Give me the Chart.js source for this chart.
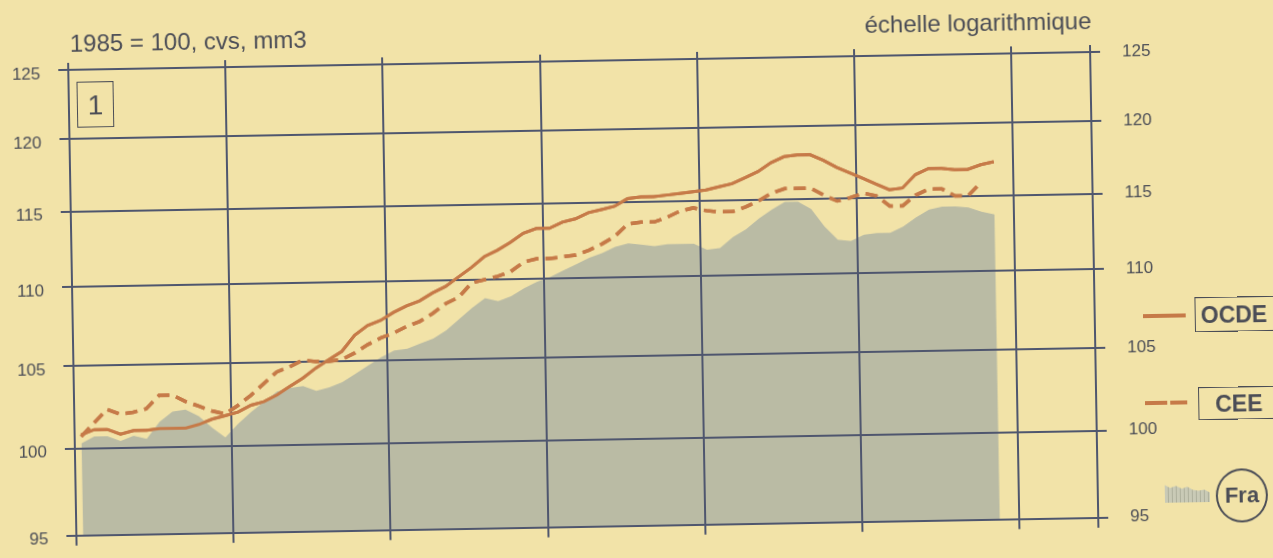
<!DOCTYPE html>
<html><head><meta charset="utf-8">
<script src="https://cdn.jsdelivr.net/npm/chart.js@4.4.1/dist/chart.umd.min.js"></script>
<style>
html,body{margin:0;padding:0;background:#f2e3a8;overflow:hidden;width:1273px;height:558px;}
#wrap{position:relative;width:1273px;height:558px;transform:rotate(-1deg);transform-origin:636px 279px;font-family:"Liberation Sans",Arial,Helvetica,sans-serif;color:#4b4d56;}
#c{position:absolute;left:0;top:0;}
.t{position:absolute;white-space:nowrap;line-height:1;}
.box{position:absolute;border:1.6px solid #4b4d56;box-sizing:border-box;}
</style></head><body>
<div id="wrap">
<canvas id="c" width="1273" height="558"></canvas>
<div class="t" style="left:74px;top:22px;font-size:24px;">1985 = 100, cvs, mm3</div>
<div class="t" style="left:869px;top:17px;font-size:24px;">échelle logarithmique</div>
<div class="box" style="left:80px;top:72px;width:37px;height:46px;"></div>
<div class="t" style="left:80px;top:82px;width:37px;text-align:center;font-size:28px;">1</div>

<div style="position:absolute;left:1142px;top:323px;width:43px;height:4px;background:#c67a48;"></div>
<div class="box" style="left:1194px;top:307px;width:95px;height:35px;"></div>
<div class="t" style="left:1200px;top:314px;font-size:23px;font-weight:bold;">OCDE</div>

<div style="position:absolute;left:1143px;top:410px;width:22px;height:4px;background:#c67a48;"></div>
<div style="position:absolute;left:1168px;top:410px;width:17px;height:4px;background:#c67a48;"></div>
<div class="box" style="left:1196px;top:397px;width:95px;height:33px;"></div>
<div class="t" style="left:1213px;top:403px;font-size:23px;font-weight:bold;">CEE</div>

<div style="position:absolute;left:1161px;top:491px;width:45px;height:21px;background:repeating-linear-gradient(90deg,#c9cab6 0 3px,#aeb09c 3px 4px);clip-path:polygon(0 15%,12% 30%,25% 20%,38% 35%,50% 25%,62% 40%,75% 45%,88% 40%,100% 55%,100% 100%,0 100%);"></div>
<div style="position:absolute;left:1212px;top:479px;width:52px;height:54px;border:2px solid #4b4d56;border-radius:50%;box-sizing:border-box;"></div>
<div class="t" style="left:1212px;top:495px;width:52px;text-align:center;font-size:22px;font-weight:bold;">Fra</div>
</div>
<script>
// monthly data, Jan 1985 - Nov 1990 (3-month moving averages, 1985 = 100)
const months = [
 '1985-01','1985-02','1985-03','1985-04','1985-05','1985-06','1985-07','1985-08','1985-09','1985-10','1985-11','1985-12',
 '1986-01','1986-02','1986-03','1986-04','1986-05','1986-06','1986-07','1986-08','1986-09','1986-10','1986-11','1986-12',
 '1987-01','1987-02','1987-03','1987-04','1987-05','1987-06','1987-07','1987-08','1987-09','1987-10','1987-11','1987-12',
 '1988-01','1988-02','1988-03','1988-04','1988-05','1988-06','1988-07','1988-08','1988-09','1988-10','1988-11','1988-12',
 '1989-01','1989-02','1989-03','1989-04','1989-05','1989-06','1989-07','1989-08','1989-09','1989-10','1989-11','1989-12',
 '1990-01','1990-02','1990-03','1990-04','1990-05','1990-06','1990-07','1990-08','1990-09','1990-10','1990-11'
];
const ocde = [
 100.8,101.1,101.1,100.8,101.0,101.0,101.1,101.1,101.1,101.3,101.6,101.8,
 102.0,102.4,102.6,103.0,103.5,104.0,104.6,105.1,105.6,106.6,107.2,107.5,
 108.0,108.4,108.7,109.2,109.6,110.2,110.8,111.5,111.9,112.4,113.0,113.3,
 113.3,113.7,113.9,114.3,114.5,114.7,115.2,115.3,115.3,115.4,115.5,115.6,
 115.7,115.9,116.1,116.5,116.9,117.5,117.9,118.0,118.0,117.6,117.1,116.7,
 116.3,115.9,115.5,115.6,116.5,116.9,116.9,116.8,116.8,117.1,117.3
];
const cee = [
 100.7,101.5,102.3,102.0,102.1,102.3,103.1,103.1,102.7,102.4,102.1,101.9,
 102.4,103.0,103.7,104.4,104.7,105.1,105.0,105.0,105.1,105.5,106.0,106.4,
 106.7,107.1,107.4,107.9,108.5,108.9,109.8,110.0,110.2,110.5,111.1,111.3,
 111.3,111.4,111.5,111.8,112.2,112.7,113.5,113.6,113.6,113.9,114.3,114.5,
 114.3,114.2,114.2,114.5,114.9,115.4,115.7,115.7,115.7,115.2,114.8,115.0,
 115.3,115.1,114.4,114.4,115.1,115.5,115.5,115.0,115.0,115.9,null
];
const fra = [
 100.3,100.7,100.7,100.4,100.7,100.5,101.5,102.1,102.2,101.8,101.1,100.5,
 101.3,102.0,102.6,103.2,103.4,103.5,103.2,103.4,103.7,104.2,104.7,105.2,
 105.6,105.7,106.0,106.3,106.8,107.5,108.2,108.8,108.6,108.9,109.4,109.8,
 110.1,110.5,110.9,111.3,111.6,112.0,112.2,112.1,112.0,112.1,112.1,112.1,
 111.7,111.8,112.5,113.0,113.7,114.3,114.8,114.8,114.3,113.1,112.2,112.1,
 112.5,112.6,112.6,113.0,113.6,114.1,114.3,114.3,114.2,113.9,113.7
];
const yearTicks = [1985,1986,1987,1988,1989,1990,1991,1991.5];
const yTicks = [95,100,105,110,115,120,125];

const xOf = m => { const [y, mo] = m.split('-').map(Number); return y + (mo - 0.5) / 12; };
const pts = arr => months.map((m, i) => ({x: xOf(m), y: arr[i]}));

const GRID = '#4f566e', ORANGE = '#c67a48', TEXT = '#4b4d56';
const setTicks = vals => scale => { scale.ticks = vals.map(v => ({value: v})); };

const linesOnTop = {
  id: 'linesOnTop',
  afterDraw(chart) {
    const a = chart.chartArea, ctx = chart.ctx;
    ctx.save(); ctx.beginPath(); ctx.rect(a.left, a.top, a.right - a.left, a.bottom - a.top); ctx.clip();
    [1, 2].forEach(i => chart.getDatasetMeta(i).controller.draw());
    ctx.restore();
  }
};

new Chart(document.getElementById('c'), {
  type: 'line',
  data: {
    datasets: [
      {label: 'Fra', data: pts(fra), fill: 'start', backgroundColor: '#babba4', borderWidth: 0, pointRadius: 0, tension: 0},
      {label: 'CEE', data: pts(cee), fill: false, borderColor: ORANGE, borderWidth: 3.5, borderDash: [12, 7], pointRadius: 0, tension: 0},
      {label: 'OCDE', data: pts(ocde), fill: false, borderColor: ORANGE, borderWidth: 3, pointRadius: 0, tension: 0}
    ]
  },
  plugins: [linesOnTop],
  options: {
    responsive: false, animation: false, devicePixelRatio: 1,
    layout: {padding: {left: 0, right: 119, top: 53, bottom: 11}},
    plugins: {legend: {display: false}, tooltip: {enabled: false}},
    scales: {
      x: {
        type: 'linear', position: 'bottom', min: 1985, max: 1991.5,
        afterBuildTicks: setTicks(yearTicks),
        afterFit: s => { s.height = 10; },
        ticks: {display: false},
        grid: {color: GRID, lineWidth: 2, tickLength: 10, z: 1},
        border: {color: GRID, width: 2, z: 1}
      },
      x2: {
        type: 'linear', position: 'top', min: 1985, max: 1991.5,
        afterBuildTicks: setTicks(yearTicks),
        afterFit: s => { s.height = 7; },
        ticks: {display: false},
        grid: {color: GRID, lineWidth: 2, tickLength: 7, drawOnChartArea: false, z: 1},
        border: {color: GRID, width: 2, z: 1}
      },
      y: {
        type: 'logarithmic', position: 'left', min: 95, max: 125,
        afterBuildTicks: setTicks(yTicks),
        afterFit: s => { s.width = 72; },
        ticks: {color: TEXT, padding: 18, labelOffset: 4, font: {family: '"Liberation Sans", Arial, sans-serif', size: 17}, callback: v => String(v)},
        grid: {color: GRID, lineWidth: 2, tickLength: 10, z: 1},
        border: {color: GRID, width: 2, z: 1}
      },
      y2: {
        type: 'logarithmic', position: 'right', min: 95, max: 125,
        afterBuildTicks: setTicks(yTicks),
        afterFit: s => { s.width = 60; },
        ticks: {color: TEXT, padding: 22, font: {family: '"Liberation Sans", Arial, sans-serif', size: 17}, callback: v => String(v)},
        grid: {color: GRID, lineWidth: 2, tickLength: 10, drawOnChartArea: false, z: 1},
        border: {color: GRID, width: 2, z: 1}
      }
    }
  }
});
</script>
</body></html>
